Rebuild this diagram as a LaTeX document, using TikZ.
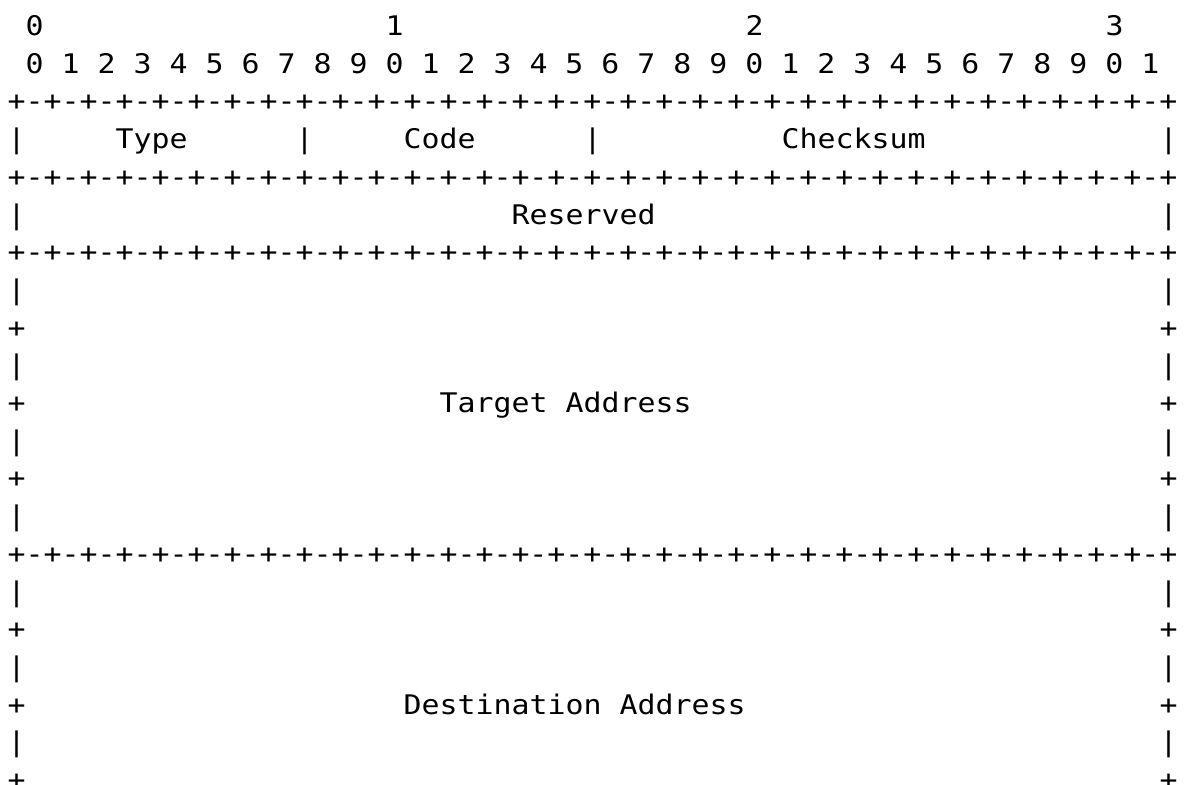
\documentclass[tikz,border=0pt]{standalone}
\usepackage{fontspec}
\newfontfamily\monofnt[FakeStretch=1.107]{DejaVu Sans Mono}
\newcommand\cellat[2]{({7.7+18*#1},{35.5+37.7*#2})}
\tikzset{
  txt/.style={anchor=base west, inner sep=0pt, outer sep=0pt,
    font={\monofnt\fontsize{27}{30}\selectfont}, text=black},
}
\begin{document}
\begin{tikzpicture}[x=1pt,y=-1pt]
\useasboundingbox[fill=white] (0,0) rectangle (1185,784);
% bit position headers
\node[txt] (h0) at \cellat{1}{0} {0};
\node[txt] (h1) at \cellat{21}{0} {1};
\node[txt] (h2) at \cellat{41}{0} {2};
\node[txt] (h3) at \cellat{61}{0} {3};
\node[txt] (bits) at \cellat{1}{1} {0 1 2 3 4 5 6 7 8 9 0 1 2 3 4 5 6 7 8 9 0 1 2 3 4 5 6 7 8 9 0 1};
% separators
\foreach \k/\nm in {2/sepa,4/sepb,6/sepc,14/sepd}{
  \node[txt] (\nm) at \cellat{0}{\k} {+-+-+-+-+-+-+-+-+-+-+-+-+-+-+-+-+-+-+-+-+-+-+-+-+-+-+-+-+-+-+-+-+};
}
% first word
\node[txt] (r3a) at \cellat{0}{3} {|};
\node[txt] (type) at \cellat{6}{3} {Type};
\node[txt] (r3b) at \cellat{16}{3} {|};
\node[txt] (code) at \cellat{22}{3} {Code};
\node[txt] (r3c) at \cellat{32}{3} {|};
\node[txt] (cks) at \cellat{43}{3} {Checksum};
\node[txt] (r3d) at \cellat{64}{3} {|};
% reserved
\node[txt] (r5a) at \cellat{0}{5} {|};
\node[txt] (resv) at \cellat{28}{5} {Reserved};
\node[txt] (r5b) at \cellat{64}{5} {|};
% side bars
\foreach \k in {7,9,11,13,15,17,19}{
  \node[txt] (bl\k) at \cellat{0}{\k} {|};
  \node[txt] (br\k) at \cellat{64}{\k} {|};
}
\foreach \k in {8,10,12,16,18,20}{
  \node[txt] (pl\k) at \cellat{0}{\k} {+};
  \node[txt] (pr\k) at \cellat{64}{\k} {+};
}
\node[txt] (target) at \cellat{24}{10} {Target Address};
\node[txt] (dest) at \cellat{22}{18} {Destination Address};
\end{tikzpicture}
\end{document}
